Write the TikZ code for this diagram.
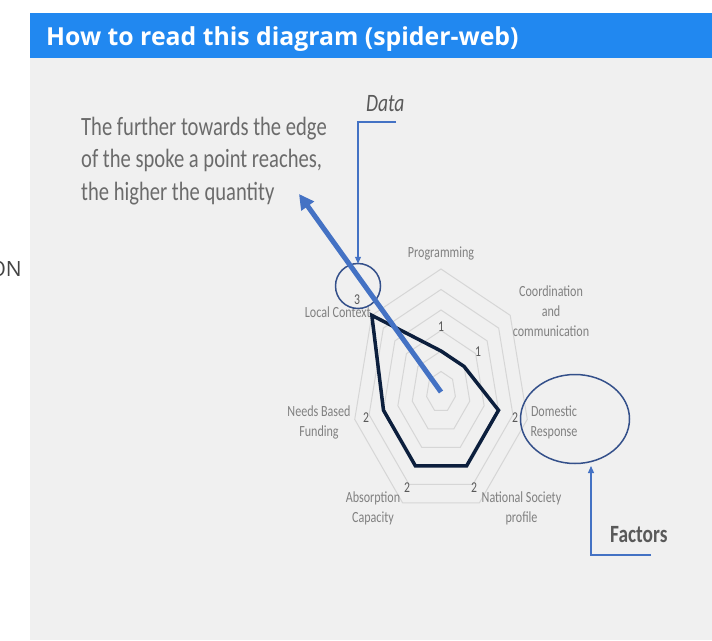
\documentclass[tikz,border=0pt]{standalone}
\usepackage{fontspec}
\setmainfont{Carlito}
\newfontfamily\cf[FakeStretch=0.78]{Carlito}
\newfontfamily\hf{Open Sans}
\usetikzlibrary{arrows.meta,shapes.geometric}
\definecolor{hdrblue}{HTML}{2188F0}
\definecolor{panelgray}{HTML}{F0F0F0}
\definecolor{gridgray}{HTML}{D6D6D6}
\definecolor{navy}{HTML}{0C1F3D}
\definecolor{accent}{HTML}{4472C4}
\definecolor{ringblue}{HTML}{34508A}
\definecolor{labgray}{HTML}{808080}
\definecolor{numgray}{HTML}{595959}
\definecolor{txtgray}{HTML}{6B6B6B}
\tikzset{
  gridline/.style={draw=gridgray, line width=1pt},
  datapoly/.style={draw=navy, line width=3.5pt, line join=miter},
  bigarrow/.style={draw=accent, line width=5pt, -{Triangle[length=15pt,width=15pt]}},
  thinarrow/.style={draw=accent, line width=1.1pt, -{Triangle[length=7pt,width=6pt]}},
  ringline/.style={draw=ringblue, line width=1.5pt},
  lbl/.style={font=\cf\fontsize{15.5}{20}\selectfont, text=labgray, inner sep=0pt, align=center},
  num/.style={font=\cf\fontsize{15}{18}\selectfont, text=numgray, inner sep=0pt}
}
\begin{document}
\begin{tikzpicture}[x=1pt,y=-1pt]
\useasboundingbox (0,0) rectangle (712,640);
\fill[white] (0,0) rectangle (712,640);
\fill[panelgray] (30,58) rectangle (712,640);
\fill[hdrblue] (30,13) rectangle (712,58);
\node[anchor=base west, inner sep=0pt, text=white, font=\hf\bfseries\fontsize{24.8}{29}\selectfont] (title) at (46,45) {How to read this diagram (spider-web)};
\node[anchor=base east, inner sep=0pt, text={rgb,255:red,68;green,68;blue,68}, font=\hf\fontsize{21}{25}\selectfont] (onfrag) at (22,276) {ON};

% spider web
\begin{scope}[shift={(441,392)}, x=29.5pt, y=41pt]
  \foreach \r in {0.5,1,1.5,2,2.5,3}
    \draw[gridline] (90:\r) \foreach \a in {38.5714,-12.8571,-64.2857,-115.7143,-167.1429,141.4286}{ -- (\a:\r)} -- cycle;
  \coordinate (ctr) at (0,0);
  \coordinate (pProg) at (90:1);
  \coordinate (pCoord) at (38.5714:1);
  \coordinate (pDom) at (-12.8571:2);
  \coordinate (pNat) at (-64.2857:2);
  \coordinate (pAbs) at (-115.7143:2);
  \coordinate (pNeeds) at (-167.1429:2);
  \coordinate (pLocal) at (141.4286:3);
\end{scope}
\draw[datapoly] (pProg) -- (pCoord) -- (pDom) -- (pNat) -- (pAbs) -- (pNeeds) -- (pLocal) -- cycle;

% axis labels (anchor=base is the baseline of the last line)
\node[lbl, anchor=base] (lProg) at (441,257) {Programming};
\node[lbl, anchor=base] (lCoord) at (551,336) {Coordination\\and\\communication};
\node[lbl, anchor=base] (lDom) at (554,436) {Domestic\\Response};
\node[lbl, anchor=base] (lNat) at (521.5,522) {National Society\\profile};
\node[lbl, anchor=base] (lAbs) at (373,522) {Absorption\\Capacity};
\node[lbl, anchor=base] (lNeeds) at (319,436) {Needs Based\\Funding};
\node[lbl, anchor=base east] (lLocal) at (371,317) {Local Context};

% value labels
\node[num] (vProg) at (441,327) {1};
\node[num] (vCoord) at (478,352) {1};
\node[num] (vDom) at (515,418) {2};
\node[num] (vNat) at (474,488) {2};
\node[num] (vAbs) at (407,488) {2};
\node[num] (vNeeds) at (366,418) {2};
\node[num] (vLocal) at (357,300) {3};

% highlight rings
\node[ringline, circle, minimum size=45pt, inner sep=0pt] (lcircle) at (358,286) {};
\node[ringline, ellipse, minimum width=109pt, minimum height=89pt, inner sep=0pt] (domell) at (575,419) {};

% explanatory text
\node[anchor=base west, inner sep=0pt, align=left, text=txtgray, font=\cf\fontsize{26.4}{32.5}\selectfont] (explain) at (81,200) {The further towards the edge\\of the spoke a point reaches,\\the higher the quantity};
\node[anchor=base west, inner sep=0pt, text=numgray, font=\cf\itshape\fontsize{25}{30}\selectfont] (datalbl) at (366,111.5) {Data};
\node[anchor=base west, inner sep=0pt, text=numgray, font=\cf\bfseries\fontsize{24.8}{29}\selectfont] (factlbl) at (610,542) {Factors};

% data bracket
\coordinate (dstart) at (396,122);
\draw[thinarrow] (dstart) -| ([yshift=-1pt]lcircle.north);

% factors bracket
\coordinate (fstart) at (651,555);
\coordinate (fcorner) at (591,555);
\coordinate (ftip) at (591,466);
\draw[thinarrow] (fstart) -- (fcorner) -- (ftip);

% big arrow
\coordinate (tip) at (299,194);
\draw[bigarrow] (ctr) -- (tip);
\end{tikzpicture}
\end{document}
